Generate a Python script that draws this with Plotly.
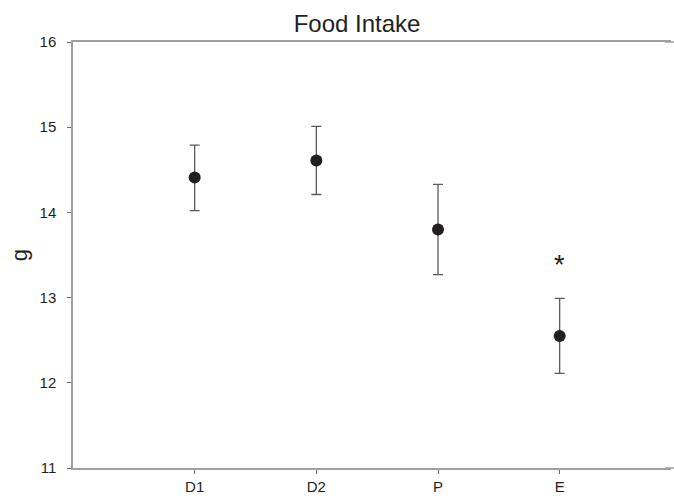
import plotly.graph_objects as go

categories = ["D1", "D2", "P", "E"]
positions = [1, 2, 3, 4]
means = [14.41, 14.61, 13.80, 12.55]
upper = [14.79, 15.01, 14.33, 12.99]
lower = [14.02, 14.21, 13.27, 12.11]
y_ticks = [11, 12, 13, 14, 15, 16]
star_y = 13.44

err_plus = [u - m for u, m in zip(upper, means)]
err_minus = [m - l for m, l in zip(means, lower)]

fig = go.Figure()
fig.add_trace(go.Scatter(
    x=positions, y=means, mode="markers",
    marker=dict(size=12, color="#231f20"),
    error_y=dict(type="data", symmetric=False, array=err_plus, arrayminus=err_minus,
                 color="#5a5a5a", thickness=1.3, width=5),
    showlegend=False,
))
fig.add_annotation(x=positions[3], y=star_y, text="*", showarrow=False,
                   font=dict(size=27, color="#231f20", family="Liberation Sans"),
                   yshift=-5)
frame = dict(color="#a0a0a0", width=1.5)
fig.add_shape(type="line", xref="paper", yref="paper", x0=0.99, x1=1.02, y0=0, y1=0, line=frame)
fig.add_shape(type="line", xref="paper", yref="paper", x0=0.99, x1=1.02, y0=1, y1=1, line=frame)

fig.update_layout(
    width=674, height=499,
    margin=dict(l=73, r=3, t=42, b=31),
    paper_bgcolor="white", plot_bgcolor="white",
    font=dict(family="Liberation Sans, Arial, sans-serif", color="#231f20"),
    title=dict(text="Food Intake", x=0.475, xref="paper", xanchor="center",
               y=0.953, yref="container", yanchor="middle",
               font=dict(size=24, color="#231f20")),
    xaxis=dict(range=[0, 4.915], tickmode="array", tickvals=positions, ticktext=categories,
               showline=True, linecolor="#a0a0a0", linewidth=1.5, mirror=True,
               ticks="outside", ticklen=4, tickcolor="#707070",
               showgrid=False, zeroline=False, tickfont=dict(size=15)),
    yaxis=dict(range=[11, 16], tickvals=y_ticks, showline=True, linecolor="#a0a0a0", linewidth=1.5,
               ticks="outside", ticklen=4, tickcolor="#707070",
               showgrid=False, zeroline=False, tickfont=dict(size=15),
               ticklabelstandoff=8,
               title=dict(text="g", font=dict(size=22), standoff=6)),
)

fig.write_html("out.html")
